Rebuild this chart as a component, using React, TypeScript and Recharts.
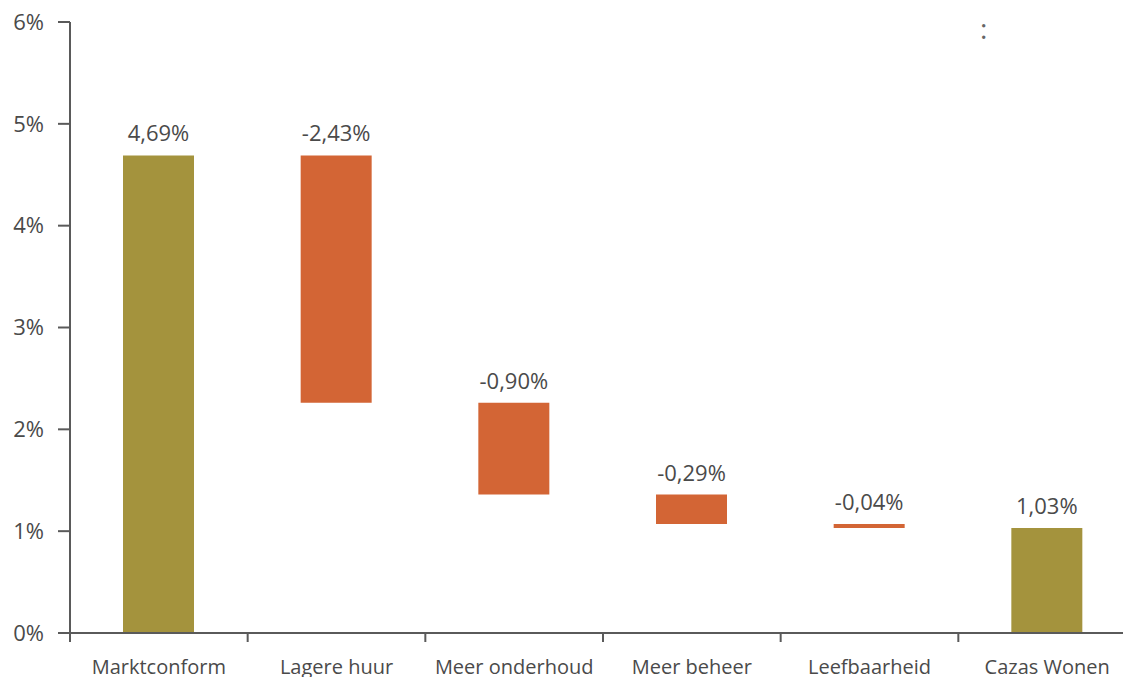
import { Bar, BarChart, Cell, LabelList, XAxis, YAxis } from "recharts";

const categories = [
  "Marktconform",
  "Lagere huur",
  "Meer onderhoud",
  "Meer beheer",
  "Leefbaarheid",
  "Cazas Wonen",
];
// percent values as printed above the bars
const values = [4.69, -2.43, -0.9, -0.29, -0.04, 1.03];
const kinds = ["total", "delta", "delta", "delta", "delta", "total"];
const yTicks = [0, 1, 2, 3, 4, 5, 6];

const OLIVE = "#a4933d";
const ORANGE = "#d36535";
const TEXT = "#4a4a4a";
const AXIS = "#5a5a5a";
const FONT = "'Open Sans', sans-serif";
const X_TICK = 9;
const X_GAP = 18;

const fmt = (v: number) => `${v.toFixed(2).replace(".", ",")}%`;

let running = 0;
const rows = categories.map((name, i) => {
  const v = values[i];
  if (kinds[i] === "total") {
    running = v;
    return { name, base: 0, size: v, label: fmt(v), kind: "total" };
  }
  const next = running + v;
  const row = {
    name,
    base: Math.min(running, next),
    size: Math.abs(v),
    label: fmt(v),
    kind: "delta",
  };
  running = next;
  return row;
});

// category label centred in its band, tick mark on the band's left edge
function BandTick(props: any) {
  const { x, y, payload } = props;
  const half = payload?.offset ?? 0;
  const axisY = y - X_TICK - X_GAP;
  return (
    <g>
      <line
        x1={x - half}
        x2={x - half}
        y1={axisY}
        y2={axisY + X_TICK}
        stroke={AXIS}
        strokeWidth={2}
      />
      <text
        x={x}
        y={y}
        dy="0.71em"
        textAnchor="middle"
        fill={TEXT}
        fontSize={20}
        fontFamily={FONT}
      >
        {payload.value}
      </text>
    </g>
  );
}

export default function App() {
  return (
    <div
      style={{
        position: "relative",
        width: 1123,
        height: 669,
        overflow: "hidden",
        fontFamily: FONT,
      }}
    >
      <BarChart
        width={1128}
        height={680}
        data={rows}
        margin={{ top: 14, right: 0, bottom: 0, left: 0 }}
        barCategoryGap={0}
      >
        <XAxis
          dataKey="name"
          height={55}
          tickLine={false}
          stroke={AXIS}
          strokeWidth={2}
          tickSize={X_TICK}
          tickMargin={X_GAP}
          interval={0}
          tick={<BandTick />}
        />
        <YAxis
          domain={[0, 6]}
          ticks={yTicks}
          width={62}
          tickSize={12}
          tickMargin={14}
          stroke={AXIS}
          strokeWidth={2}
          tickFormatter={(v) => `${v}%`}
          tick={{ fill: TEXT, fontSize: 22, fontFamily: FONT }}
        />
        <Bar
          dataKey="base"
          stackId="w"
          fill="transparent"
          barSize={71}
          isAnimationActive={false}
        />
        <Bar dataKey="size" stackId="w" barSize={71} isAnimationActive={false}>
          {rows.map((r) => (
            <Cell key={r.name} fill={r.kind === "total" ? OLIVE : ORANGE} />
          ))}
          <LabelList
            dataKey="label"
            position="top"
            offset={14}
            fill={TEXT}
            fontSize={22}
            fontFamily={FONT}
          />
        </Bar>
      </BarChart>
      <span
        style={{
          position: "absolute",
          left: 972,
          top: 6,
          fontSize: 28,
          color: "#666",
          lineHeight: 1,
        }}
      >
        :
      </span>
    </div>
  );
}
